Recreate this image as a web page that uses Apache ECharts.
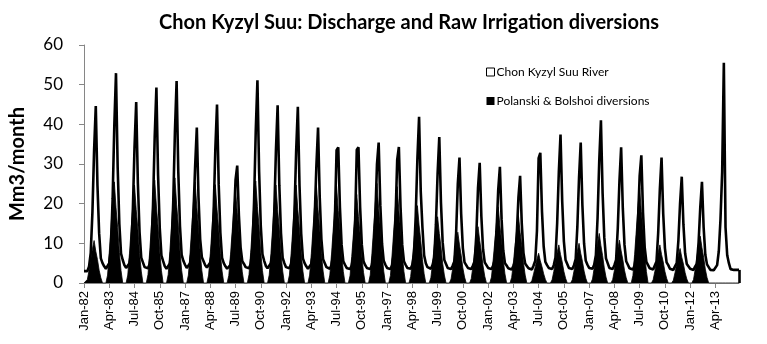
<!DOCTYPE html>
<html><head><meta charset="utf-8">
<script src="https://cdn.jsdelivr.net/npm/echarts@6/dist/echarts.min.js"></script>
<style>html,body{margin:0;padding:0;background:#fff}#c{width:767px;height:344px}</style>
</head><body><div id="c"></div>
<script>
// Monthly series, Jan-1982 onward
const monthNames = ["Jan","Feb","Mar","Apr","May","Jun","Jul","Aug","Sep","Oct","Nov","Dec"];
const startYear = 1982;
const yTicks = [0,10,20,30,40,50,60];

const river = [
 3.0,2.8,3.0,4.2,7.6,17.8,33.5,44.6,24.5,12.5,6.2,5.0,   // 1982
 4.2,3.6,3.8,5.0,9.0,21.2,39.7,52.9,29.1,14.8,7.4,5.8,   // 1983
 4.5,3.8,4.0,5.0,7.8,18.2,34.2,45.6,25.1,12.8,6.4,5.2,   // 1984
 4.0,3.5,3.7,4.8,8.4,19.7,37.0,49.3,27.1,13.8,6.9,5.5,   // 1985
 4.2,3.6,3.9,4.9,8.7,20.4,38.2,50.9,28.0,14.3,7.1,5.6,   // 1986
 4.6,3.8,4.0,5.0,8.0,17.5,29.4,39.2,21.6,11.0,6.5,5.5,   // 1987
 4.5,3.9,4.1,5.2,7.7,18.0,33.8,45.0,24.8,12.6,6.3,5.0,   // 1988
 4.2,3.6,3.8,4.6,7.5,15.5,26.0,29.6,17.0,9.0,5.5,4.8,    // 1989
 4.0,3.5,3.7,4.8,8.7,20.4,38.3,51.1,28.1,14.3,7.2,5.6,   // 1990
 4.3,3.7,3.9,5.0,7.6,17.9,33.6,44.8,24.6,12.5,6.3,5.0,   // 1991
 4.0,3.5,3.7,4.8,7.5,17.8,33.3,44.4,24.4,12.4,6.2,5.0,   // 1992
 4.2,3.6,3.8,4.8,7.5,16.5,29.4,39.2,21.6,11.0,6.0,5.0,   // 1993
 4.0,3.5,3.6,4.5,7.4,16.0,33.5,34.2,19.0,9.6,5.5,4.6,    // 1994
 3.8,3.4,3.5,4.4,6.8,15.0,33.6,34.2,19.0,9.6,5.5,4.5,    // 1995
 3.8,3.4,3.5,4.5,7.5,16.5,30.0,35.4,19.5,9.9,5.6,4.6,    // 1996
 3.8,3.4,3.5,4.5,7.3,16.0,31.0,34.3,19.0,9.6,5.5,4.6,    // 1997
 3.8,3.4,3.6,4.6,7.1,16.8,31.4,41.9,23.0,14.0,7.0,5.0,   // 1998
 4.0,3.5,3.6,4.5,6.3,14.7,27.6,36.8,20.2,10.3,5.8,4.8,   // 1999
 3.8,3.4,3.5,4.4,5.5,12.6,25.0,31.6,17.4,8.8,5.2,4.5,    // 2000
 3.8,3.4,3.5,4.4,5.4,12.1,24.0,30.3,16.7,8.5,5.2,4.5,    // 2001
 3.8,3.4,3.5,4.4,6.0,13.0,23.5,29.3,16.1,8.2,5.0,4.4,    // 2002
 3.7,3.3,3.4,4.3,5.5,12.0,21.5,27.0,14.9,7.6,4.9,4.3,    // 2003
 3.7,3.3,3.4,4.4,5.6,13.1,31.5,32.8,18.0,9.2,5.3,4.5,    // 2004
 3.8,3.4,3.5,4.5,6.4,15.0,28.0,37.4,20.6,10.5,5.8,4.8,   // 2005
 3.8,3.4,3.5,4.5,6.0,14.2,26.6,35.4,19.5,9.9,5.6,4.6,    // 2006
 3.8,3.4,3.6,4.6,7.0,16.4,30.8,41.0,22.6,11.5,6.2,5.0,   // 2007
 3.8,3.4,3.5,4.5,5.8,13.7,25.7,34.2,18.8,9.6,5.5,4.6,    // 2008
 3.7,3.3,3.4,4.4,7.4,15.5,27.0,32.2,17.7,9.0,5.3,4.5,    // 2009
 3.7,3.3,3.4,4.4,5.4,12.6,23.7,31.6,17.4,8.8,5.2,4.5,    // 2010
 3.6,3.2,3.3,4.2,5.0,10.7,20.1,26.8,14.7,7.5,4.8,4.3,    // 2011
 3.6,3.2,3.3,4.2,4.9,10.2,19.1,25.5,14.0,7.1,4.7,4.2,    // 2012
 3.3,3.2,3.2,3.5,4.5,8.0,16.0,28.0,55.5,14.0,7.0,5.0,    // 2013
 3.5,3.3,3.3,3.3,3.3,3.3                                 // 2014
];

const diversions = [
 0,0,0.9,3.2,5.9,8.6,10.7,8.0,5.9,3.2,1.3,0,             // 1982
 0,0,2.0,7.7,14.0,20.4,25.5,19.1,14.0,7.7,3.1,0,         // 1983
 0,0,2.0,7.4,13.6,19.8,24.7,18.5,13.6,7.4,3.0,0,         // 1984
 0,0,2.1,7.8,14.2,20.7,25.9,19.4,14.2,7.8,3.1,0,         // 1985
 0,0,2.1,8.0,14.6,21.2,26.5,19.9,14.6,8.0,3.2,0,         // 1986
 0,0,2.0,7.7,14.0,20.4,25.5,19.1,14.0,7.7,3.1,0,         // 1987
 0,0,2.0,7.4,13.6,19.8,24.8,18.6,13.6,7.4,3.0,0,         // 1988
 0,0,1.9,7.1,13.0,18.9,23.6,17.7,13.0,7.1,2.8,0,         // 1989
 0,0,2.1,7.7,14.1,20.6,25.7,19.3,14.1,7.7,3.1,0,         // 1990
 0,0,2.0,7.4,13.6,19.8,24.7,18.5,13.6,7.4,3.0,0,         // 1991
 0,0,2.0,7.4,13.6,19.8,24.7,18.5,13.6,7.4,3.0,0,         // 1992
 0,0,2.0,7.4,13.6,19.8,24.8,18.6,13.6,7.4,3.0,0,         // 1993
 0,0,2.0,7.3,13.4,19.5,24.4,18.3,13.4,7.3,2.9,0,         // 1994
 0,0,1.8,6.7,12.3,17.8,22.3,16.7,12.3,6.7,2.7,0,         // 1995
 0,0,2.0,7.5,13.8,20.1,25.1,18.8,13.8,7.5,3.0,0,         // 1996
 0,0,1.9,7.3,13.4,19.4,24.3,18.2,13.4,7.3,2.9,0,         // 1997
 0,0,1.6,5.9,10.7,15.6,19.5,14.6,10.7,5.9,2.3,0,         // 1998
 0,0,1.3,5.0,9.2,13.4,16.7,12.5,9.2,5.0,2.0,0,           // 1999
 0,0,1.0,3.8,7.0,10.2,12.8,9.6,7.0,3.8,1.5,0,            // 2000
 0,0,1.1,4.3,7.8,11.4,14.2,10.7,7.8,4.3,1.7,0,           // 2001
 0,0,1.5,5.8,10.6,15.4,19.2,14.4,10.6,5.8,2.3,0,         // 2002
 0,0,1.4,5.1,9.4,13.6,17.0,12.8,9.4,5.1,2.0,0,           // 2003
 0,0,0.6,2.3,4.1,6.0,7.5,5.6,4.1,2.3,0.9,0,              // 2004
 0,0,0.8,2.9,5.3,7.7,9.6,7.2,5.3,2.9,1.2,0,              // 2005
 0,0,0.8,3.0,5.5,8.0,10.0,7.5,5.5,3.0,1.2,0,             // 2006
 0,0,1.0,3.8,6.9,10.0,12.5,9.4,6.9,3.8,1.5,0,            // 2007
 0,0,0.9,3.2,5.9,8.6,10.8,8.1,5.9,3.2,1.3,0,             // 2008
 0,0,1.9,7.2,13.2,19.2,24.0,18.0,13.2,7.2,2.9,0,         // 2009
 0,0,0.8,2.9,5.3,7.7,9.6,7.2,5.3,2.9,1.2,0,              // 2010
 0,0,0.7,2.6,4.8,7.0,8.7,6.5,4.8,2.6,1.0,0,              // 2011
 0,0,0.9,3.5,6.5,9.4,11.8,8.9,6.5,3.5,1.4,0,             // 2012
 0,0,0,0,0,0,0,0,0,0,0,0,                                // 2013
 0,0,0,0,0,0                                             // 2014
];

const categories = river.map((_, i) =>
  monthNames[i % 12] + "-" + String((startYear + Math.floor(i / 12)) % 100).padStart(2, "0"));
const lastCat = categories[categories.length - 1];

const chart = echarts.init(document.getElementById("c"), null, {renderer: "canvas"});
chart.setOption({
  animation: false,
  backgroundColor: "#fff",
  title: {
    text: "Chon Kyzyl Suu: Discharge and Raw Irrigation diversions",
    left: 404, top: 8, textAlign: "center",
    textStyle: {fontFamily: "Lato", fontWeight: "bold", fontSize: 20, color: "#000"}
  },
  legend: {
    orient: "vertical", left: 481, top: 61, itemGap: 17,
    itemWidth: 8, itemHeight: 8, icon: "rect",
    textStyle: {fontFamily: "Lato", fontSize: 12, color: "#000", padding: [0, 0, 0, -3]},
    data: [
      {name: "Chon Kyzyl Suu River", itemStyle: {color: "#fff", borderColor: "#000", borderWidth: 1}},
      {name: "Polanski & Bolshoi diversions", itemStyle: {color: "#000"}}
    ]
  },
  grid: {left: 83, right: 28, top: 45, bottom: 61, containLabel: false},
  xAxis: {
    type: "category", data: categories, boundaryGap: false,
    axisLine: {lineStyle: {color: "#868686", width: 1}},
    axisTick: {interval: 14, length: 5, lineStyle: {color: "#868686"}},
    axisLabel: {interval: 14, rotate: 90, margin: 8, fontFamily: "Liberation Sans", fontSize: 13, color: "#000"},
    splitLine: {show: false}
  },
  yAxis: {
    type: "value", min: yTicks[0], max: yTicks[yTicks.length - 1], interval: 10,
    name: "Mm3/month", nameLocation: "middle", nameGap: 56,
    nameTextStyle: {fontFamily: "Lato", fontWeight: "bold", fontSize: 20, color: "#000"},
    axisLine: {show: true, lineStyle: {color: "#868686", width: 1}},
    axisTick: {show: true, length: 5, lineStyle: {color: "#868686"}},
    axisLabel: {margin: 21, fontFamily: "Lato", fontSize: 17, color: "#000"},
    splitLine: {show: false}
  },
  series: [
    {
      name: "Chon Kyzyl Suu River", type: "line", data: river,
      symbol: "none", lineStyle: {color: "#000", width: 2.6},
      itemStyle: {color: "#fff", borderColor: "#000"},
      areaStyle: {color: "#fff", opacity: 1}, z: 2,
      markLine: {
        silent: true, symbol: "none", label: {show: false},
        lineStyle: {color: "#000", width: 2.6, type: "solid"},
        data: [[{coord: [lastCat, 0]}, {coord: [lastCat, river[river.length - 1]]}]]
      }
    },
    {
      name: "Polanski & Bolshoi diversions", type: "line", data: diversions,
      symbol: "none", lineStyle: {color: "#000", width: 0.8},
      itemStyle: {color: "#000"},
      areaStyle: {color: "#000", opacity: 1}, z: 3
    }
  ]
});
</script>
</body></html>
